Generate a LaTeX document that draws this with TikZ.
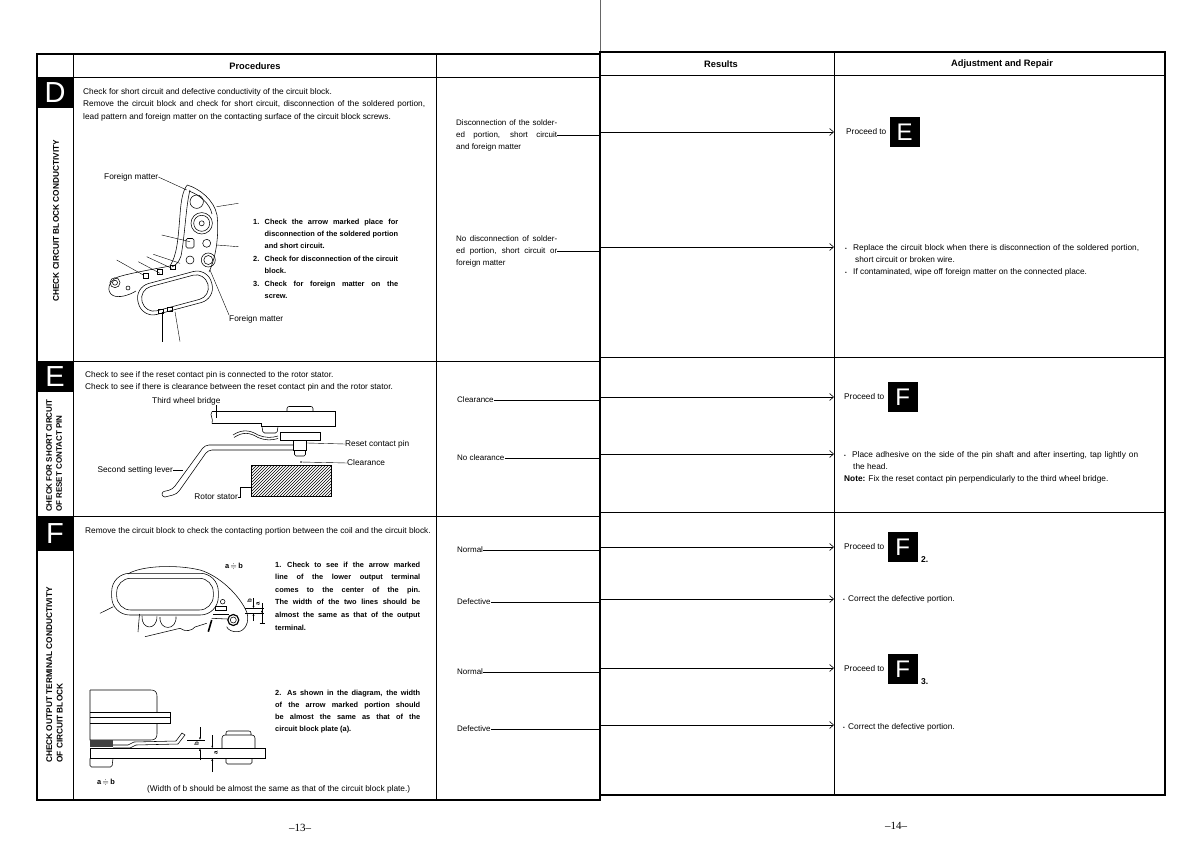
\documentclass[tikz,border=0pt]{standalone}
\usepackage{amsmath,amssymb}
\usepackage{fontspec}
\setmainfont{Liberation Sans}
\newfontfamily\pagenumfont{Liberation Serif}
\usetikzlibrary{positioning,patterns,arrows.meta}
\setlength{\parindent}{0pt}
\hyphenpenalty=10000
\newcommand{\bulletmark}{\makebox[8pt][l]{\fontsize{5}{5}\selectfont\textbullet}}
\tikzset{
framelinev1/.style={draw=black, line width=1.2pt},
gridlinev1/.style={draw=black, line width=0.6pt},
partlinev1/.style={draw=black, line width=0.55pt},
leaderlinev1/.style={draw=black, line width=0.4pt},
foldlinev1/.style={draw=black!60, line width=0.4pt},
resultarrowv1/.style={draw=black, line width=0.6pt, -{Straight Barb[length=4pt,width=7pt]}},
dimarrowv1/.style={draw=black, line width=0.4pt, -{Latex[length=2.5pt,width=2pt]}},
letterboxv1/.style={rectangle, fill=black, text=white, inner sep=0pt, minimum width=36pt, font=\fontsize{29}{29}\selectfont},
letterboxv2/.style={rectangle, fill=black, text=white, inner sep=0pt, minimum width=30pt, minimum height=30pt, font=\fontsize{24}{24}\selectfont},
headnodev1/.style={inner sep=0pt, font=\bfseries\fontsize{9.3}{11}\selectfont},
sidelabelv1/.style={inner sep=0pt, rotate=90, anchor=west, align=left, font=\bfseries\fontsize{8.3}{10.5}\selectfont},
textnodev1/.style={inner sep=0pt, anchor=north west, align=justify, font=\fontsize{8.3}{12.5}\selectfont},
itemnodev1/.style={inner sep=0pt, anchor=north west, align=justify, text width=145pt, font=\bfseries\fontsize{7.4}{12.4}\selectfont},
labelnodev1/.style={inner sep=0pt, font=\fontsize{8.3}{10}\selectfont},
resnodev1/.style={inner sep=0pt, anchor=west, align=justify, text width=101pt, font=\fontsize{8}{12}\selectfont},
resnodev2/.style={inner sep=0pt, anchor=west, font=\fontsize{8}{12}\selectfont},
adjnodev1/.style={inner sep=0pt, anchor=north west, align=justify, text width=294pt, font=\fontsize{8.3}{12}\selectfont},
adjnodev2/.style={inner sep=0pt, anchor=west, font=\fontsize{8.3}{12}\selectfont},
stepnumv1/.style={inner sep=0pt, anchor=base west, font=\bfseries\fontsize{8.5}{10}\selectfont},
dimlabelv1/.style={inner sep=0pt, rotate=90, font=\bfseries\fontsize{6}{6}\selectfont},
pagenonode/.style={inner sep=0pt, font=\pagenumfont\fontsize{11}{11}\selectfont},
}
\begin{document}
\begin{tikzpicture}[x=1pt,y=-1pt]
\useasboundingbox (0,0) rectangle (1200,851);

\coordinate (foldL) at (600,0);
\coordinate (adjcol) at (834,0);
\draw[foldlinev1] (foldL) -- (600,52);

\draw[framelinev1] (37,54) rectangle (600,800);
\draw[gridlinev1] (37,77) -- (600,77);
\draw[gridlinev1] (37,361) -- (600,361);
\draw[gridlinev1] (37,516) -- (600,516);
\draw[gridlinev1] (73,54) -- (73,800);
\draw[gridlinev1] (436,54) -- (436,800);

\draw[framelinev1] (600,52) rectangle (1165,795);
\draw[gridlinev1] (600,75) -- (1165,75);
\draw[gridlinev1] (600,357) -- (1165,357);
\draw[gridlinev1] (600,512) -- (1165,512);
\draw[gridlinev1] (834,52) -- (834,795);

\node[headnodev1] at (255,66) (hdrproc) {Procedures};
\node[headnodev1] at (721,64) (hdrres) {Results};
\node[headnodev1] at (1002,64) (hdradj) {Adjustment and Repair};

\node[letterboxv1, minimum height=31pt] at (55,92.5) (boxD) {D};
\node[letterboxv1, minimum height=31pt] at (55,376.5) (boxE) {E};
\node[letterboxv1, minimum height=35pt] at (55,533.5) (boxF) {F};
\node[sidelabelv1] at (56,302) (labD) {CHECK CIRCUIT BLOCK CONDUCTIVITY};
\node[sidelabelv1, font=\bfseries\fontsize{8}{10}\selectfont] at (54,512) (labE) {CHECK FOR SHORT CIRCUIT\\OF RESET CONTACT PIN};
\node[sidelabelv1] at (54.5,763) (labF) {CHECK OUTPUT TERMINAL CONDUCTIVITY\\OF CIRCUIT BLOCK};

\node[textnodev1, text width=342pt] at (83,88) (txtD) {Check for short circuit and defective conductivity of the circuit block.\\
Remove the circuit block and check for short circuit, disconnection of the soldered portion,\linebreak lead pattern and foreign matter on the contacting surface of the circuit block screws.};
\node[itemnodev1] at (253,218.5) (itemsD) {%
\hangindent=11.5pt\hangafter=1\makebox[11.5pt][l]{1.}Check the arrow marked place for\linebreak disconnection of the soldered portion\linebreak and short circuit.\par
\hangindent=11.5pt\hangafter=1\makebox[11.5pt][l]{2.}Check for disconnection of the circuit\linebreak block.\par
\hangindent=11.5pt\hangafter=1\makebox[11.5pt][l]{3.}Check for foreign matter on the\linebreak screw.\par};
\node[labelnodev1, anchor=west] at (104,177) (fmtop) {Foreign matter};
\node[labelnodev1, anchor=west] at (229,319) (fmbot) {Foreign matter};

\draw[partlinev1] (187.3,185) .. controls (200,189) and (214,200) .. (217,215) .. controls (219,232) and (217,255) .. (209,272);
\draw[partlinev1] (189,191) .. controls (200,195) and (210,204) .. (212,214);
\draw[partlinev1] (187.3,185) .. controls (183,190) and (181,200) .. (180,215) .. controls (178,240) and (177,255) .. (170,266) .. controls (160,268) and (130,273) .. (118,277) .. controls (108,281) and (106,292) .. (113,295.5) .. controls (118,298) and (128,296) .. (136,291);
\draw[partlinev1] (190,190) .. controls (186,205) and (185,235) .. (181,256) .. controls (179,262) and (176,265) .. (172,267);
\begin{scope}[shift={(175,293)}, rotate=15]
\draw[partlinev1, rounded corners=15pt] (-38,-16) rectangle (38,16);
\draw[partlinev1, rounded corners=12pt] (-34,-12.5) rectangle (34,12.5);
\end{scope}
\draw[partlinev1] (196.7,201.7) circle (6.7);
\draw[partlinev1] (201.7,223.3) circle (10.7);
\draw[partlinev1] (201.7,223.3) circle (8);
\draw[partlinev1] (201.7,223.3) circle (2.5);
\draw[partlinev1, rounded corners=1.5pt] (186,238.5) rectangle (194,248);
\draw[partlinev1] (206.7,243.3) circle (4);
\draw[partlinev1] (190,260) circle (4);
\draw[partlinev1] (208.3,260) circle (7);
\draw[partlinev1] (208.3,260) circle (4.5);
\draw[partlinev1] (115,282.7) circle (5);
\draw[partlinev1] (115,282.7) circle (2.5);
\draw[partlinev1] (128,288) circle (2);
\draw[partlinev1] (143,273.5) rectangle (148.5,278);
\draw[partlinev1] (157,269.5) rectangle (162.5,274);
\draw[partlinev1] (170,265) rectangle (175.5,269.5);
\draw[partlinev1] (158,309) rectangle (163,313);
\draw[partlinev1] (167,307) rectangle (172,311);
\draw[leaderlinev1] (fmtop.east) -- (186.7,190);
\draw[leaderlinev1] (216.7,206.7) -- (238.3,203.3);
\draw[leaderlinev1] (216.7,245) -- (238.3,246.7);
\draw[leaderlinev1] (161.7,235) -- (190,241.7);
\draw[leaderlinev1] (116.7,260) -- (143.3,275);
\draw[leaderlinev1] (138.3,261.7) -- (160,273.3);
\draw[leaderlinev1] (146.7,256.7) -- (171.7,268.3);
\draw[leaderlinev1] (153.3,254.3) -- (180,263.3);
\draw[leaderlinev1] (161.7,311.7) -- (161.7,341.7);
\draw[leaderlinev1] (175,311.7) -- (180,341.7);
\draw[leaderlinev1] (210,270) -- (fmbot.north west);

\node[textnodev1, align=left, font=\fontsize{8.3}{12}\selectfont] at (85,371.5) (txtE) {Check to see if the reset contact pin is connected to the rotor stator.\\Check to see if there is clearance between the reset contact pin and the rotor stator.};
\node[labelnodev1, anchor=west] at (152,401) (bridge) {Third wheel bridge};
\node[labelnodev1, anchor=west] at (345,444) (resetpin) {Reset contact pin};
\node[labelnodev1, anchor=west] at (347,463) (clearlab) {Clearance};
\node[labelnodev1, anchor=east] at (173,470) (setlever) {Second setting lever};
\node[labelnodev1, anchor=east] at (238,497) (rotor) {Rotor stator};

\draw[partlinev1] (212,411.7) -- (335,411.7) -- (335,426.7) -- (261.7,426.7) -- (261.7,423.3) -- (212,423.3);
\draw[partlinev1] (212,411.7) .. controls (209,415) and (214,419) .. (212,423.3);
\draw[partlinev1, rounded corners=2pt] (287,411.7) -- (287,406.5) -- (313,406.5) -- (313,411.7);
\draw[partlinev1, rounded corners=1.5pt] (262,426.7) -- (263,433) -- (277,433) -- (278,426.7);
\draw[partlinev1] (233,435) .. controls (242,429) and (250,430) .. (258,435) .. controls (265,438) and (272,438) .. (278,436);
\draw[partlinev1] (234,437.5) .. controls (243,431.5) and (250,432.5) .. (258,437.5) .. controls (265,440.5) and (272,440.5) .. (278,438.5);
\draw[partlinev1] (280,432) rectangle (320,440);
\draw[partlinev1] (293.3,440) rectangle (306.7,450);
\draw[partlinev1, rounded corners=1.5pt] (294.5,450) -- (294.5,456) -- (305.5,456) -- (305.5,450);
\draw[partlinev1, rounded corners=4pt] (293.3,445) -- (205,445) -- (172.5,489.5) -- (163.5,491.5);
\draw[partlinev1, rounded corners=4pt] (293.3,450) -- (208,450) -- (177,494) -- (165,497);
\draw[partlinev1] (163.5,491.5) .. controls (161,493) and (162,497) .. (165,497);
\draw[partlinev1, pattern=north east lines] (251.7,465) rectangle (331.7,496.7);
\fill (301,462) circle (0.8);
\draw[leaderlinev1] (301,462) -- (clearlab.west);
\draw[leaderlinev1] (307,443) -- (resetpin.west);
\draw[leaderlinev1] (setlever.east) -- (183,470);
\draw[leaderlinev1] (rotor.east) -- ++(2,0) |- (251.7,487);
\draw[leaderlinev1] ([xshift=-4pt]bridge.south east) -- ++(0,13);

\node[labelnodev1, anchor=west] at (85,531) (txtF) {Remove the circuit block to check the contacting portion between the coil and the circuit block.};
\node[itemnodev1, font=\bfseries\fontsize{7.4}{12.6}\selectfont] at (275,561.5) (itemsF1) {\hangindent=12pt\hangafter=1\makebox[12pt][l]{1.}Check to see if the arrow marked\linebreak line of the lower output terminal\linebreak comes to the center of the pin.\linebreak The width of the two lines should be\linebreak almost the same as that of the output\linebreak terminal.};
\node[itemnodev1, font=\bfseries\fontsize{7.4}{12.2}\selectfont] at (275,689.5) (itemsF2) {\hangindent=12pt\hangafter=1\makebox[12pt][l]{2.}As shown in the diagram, the width\linebreak of the arrow marked portion should\linebreak be almost the same as that of the\linebreak circuit block plate (a).};
\node[labelnodev1, font=\bfseries\fontsize{7.4}{9}\selectfont] at (234,566) (approxtop) {a\,$\doteqdot$\,b};
\node[labelnodev1, font=\bfseries\fontsize{7.4}{9}\selectfont] at (106,782) (approxbot) {a\,$\doteqdot$\,b};
\node[labelnodev1, anchor=west] at (147,789.5) (widthnote) {(Width of b should be almost the same as that of the circuit block plate.)};

\draw[partlinev1, rounded corners=18pt] (111.7,573.3) rectangle (218.3,615);
\draw[partlinev1, rounded corners=14pt] (116.7,578.3) rectangle (213.3,610);
\draw[partlinev1] (128,574) .. controls (140,566) and (175,564) .. (200,570) .. controls (220,576) and (240,596) .. (246.7,612) .. controls (250,622) and (245,631) .. (238,631.7) .. controls (232,632) and (228,630) .. (226.7,626.7);
\draw[partlinev1] (100,613.3) -- (113.3,606.7);
\draw[partlinev1, line width=1.2pt] (233.3,620) circle (5.5);
\draw[partlinev1] (233.3,620) circle (3);
\draw[partlinev1] (222.7,601.7) circle (2.3);
\draw[partlinev1] (215,606.7) rectangle (226.7,610);
\draw[partlinev1] (213,614.5) -- (229,614.5);
\draw[partlinev1] (211.7,618.3) -- (227.5,619);
\draw[partlinev1, line width=1.6pt] (208.3,631.7) -- (211.7,620);
\draw[partlinev1] (142,616) .. controls (141,630) and (157,631) .. (157,616.5);
\draw[partlinev1] (160,617) .. controls (159,631) and (177,631) .. (176,616.5);
\draw[partlinev1] (145,636.7) -- (180,628.3) .. controls (185,632) and (192,631) .. (195,627) -- (206.7,623.3);
\draw[partlinev1] (139.5,614) -- (138,632);
\draw[leaderlinev1] (245,608.3) -- (264,608.3);
\draw[leaderlinev1] (245,613.3) -- (264,613.3);
\draw[dimarrowv1] (253.5,598) -- (253.5,608.3);
\draw[dimarrowv1] (253.5,621) -- (253.5,613.3);
\draw[dimarrowv1] (262,603) -- (262,613.3);
\draw[leaderlinev1] (262,608.3) -- (262,623);
\draw[leaderlinev1] (259.5,623) -- (264.5,623);
\node[dimlabelv1] at (249.5,601) (dimb1) {b};
\node[dimlabelv1] at (258,604) (dima1) {a};

\draw[partlinev1] (90,690) -- (151,690) .. controls (155,690) and (157,692) .. (157,696) -- (157,712);
\draw[partlinev1] (157,723) -- (157,734) .. controls (157,738) and (155,740) .. (151,740) -- (90,740) -- (90,690);
\draw[partlinev1] (90,712) -- (170,712) -- (170,723) -- (90,723);
\draw[partlinev1] (90,717.3) -- (170,717.3);
\fill[black!75] (90,740) rectangle (113,747);
\draw[partlinev1] (90,748.3) rectangle (265,758.3);
\draw[partlinev1, rounded corners=1.5pt] (90,758.3) -- (90,767) -- (112,767) -- (113,758.3);
\draw[partlinev1] (113,745) -- (128,745) -- (134,742) -- (176,741) -- (182,733) -- (185,735) -- (178,744) -- (136,745) -- (130,748) -- (113,748);
\draw[partlinev1, rounded corners=3pt] (222,748.3) -- (222,735) -- (255,735) -- (255,748.3);
\draw[partlinev1, rounded corners=2pt] (226,735) -- (226,731) -- (251,731) -- (251,735);
\draw[partlinev1, rounded corners=1.5pt] (226,758.3) -- (226,764) -- (252,764) -- (252,758.3);
\draw[leaderlinev1] (187,740) -- (205,740);
\draw[dimarrowv1] (200,727) -- (200,740);
\draw[dimarrowv1] (200,760) -- (200,748.3);
\draw[dimarrowv1] (212.3,735) -- (212.3,748.3);
\draw[dimarrowv1] (212.3,772) -- (212.3,758.3);
\node[dimlabelv1] at (196.5,744) (dimb2) {b};
\node[dimlabelv1] at (216,753) (dima2) {a};

\node[resnodev1] at (456,135) (resD1) {Disconnection of the solder-\linebreak ed portion, short circuit\linebreak and foreign matter};
\node[resnodev1] at (456,251) (resD2) {No disconnection of solder-\linebreak ed portion, short circuit or\linebreak foreign matter};
\node[resnodev2] at (457,400) (resE1) {Clearance};
\node[resnodev2] at (457,458) (resE2) {No clearance};
\node[resnodev2] at (457,550) (resF1) {Normal};
\node[resnodev2] at (457,602) (resF2) {Defective};
\node[resnodev2] at (457,672) (resF3) {Normal};
\node[resnodev2] at (457,729) (resF4) {Defective};
\foreach \r in {resD1,resD2,resE1,resE2,resF1,resF2,resF3,resF4}
  \draw[leaderlinev1] (\r.east) -- (\r.east -| foldL);

\coordinate (goD1) at (601,132);
\coordinate (goD2) at (601,247);
\coordinate (goE1) at (601,397);
\coordinate (goE2) at (601,454);
\coordinate (goF1) at (601,547);
\coordinate (goF2) at (601,599);
\coordinate (goF3) at (601,668);
\coordinate (goF4) at (601,725);
\foreach \g in {goD1,goD2,goE1,goE2,goF1,goF2,goF3,goF4}
  \draw[resultarrowv1] (\g) -- (\g -| adjcol);

\node[adjnodev2] at (846,132) (procE) {Proceed to};
\node[letterboxv2, right=3pt of procE] (goboxE) {E};
\node[adjnodev1] at (845,244) (adjD2) {\hangindent=10pt\hangafter=1\bulletmark Replace the circuit block when there is disconnection of the soldered portion,\linebreak short circuit or broken wire.\par
\hangindent=10pt\hangafter=1\bulletmark If contaminated, wipe off foreign matter on the connected place.};
\node[adjnodev2] at (844,397) (procF) {Proceed to};
\node[letterboxv2, right=3pt of procF] (goboxF) {F};
\node[adjnodev1] at (844,451) (adjE2) {\hangindent=9pt\hangafter=1\bulletmark Place adhesive on the side of the pin shaft and after inserting, tap lightly on\linebreak the head.\par
\textbf{Note:} Fix the reset contact pin perpendicularly to the third wheel bridge.};
\node[adjnodev2] at (844,547) (procF2) {Proceed to};
\node[letterboxv2, right=3pt of procF2] (goboxF2) {F};
\node[stepnumv1] at ([xshift=3pt]goboxF2.south east) (stepF2) {2.};
\node[adjnodev2] at (843,599) (adjF2) {\makebox[5pt][l]{\fontsize{5}{5}\selectfont\textbullet}Correct the defective portion.};
\node[adjnodev2] at (844,669) (procF3) {Proceed to};
\node[letterboxv2, right=3pt of procF3] (goboxF3) {F};
\node[stepnumv1] at ([xshift=3pt]goboxF3.south east) (stepF3) {3.};
\node[adjnodev2] at (843,727) (adjF4) {\makebox[5pt][l]{\fontsize{5}{5}\selectfont\textbullet}Correct the defective portion.};

\node[pagenonode] at (300,828) (pg13) {\textendash13\textendash};
\node[pagenonode] at (896,826) (pg14) {\textendash14\textendash};
\end{tikzpicture}
\end{document}
